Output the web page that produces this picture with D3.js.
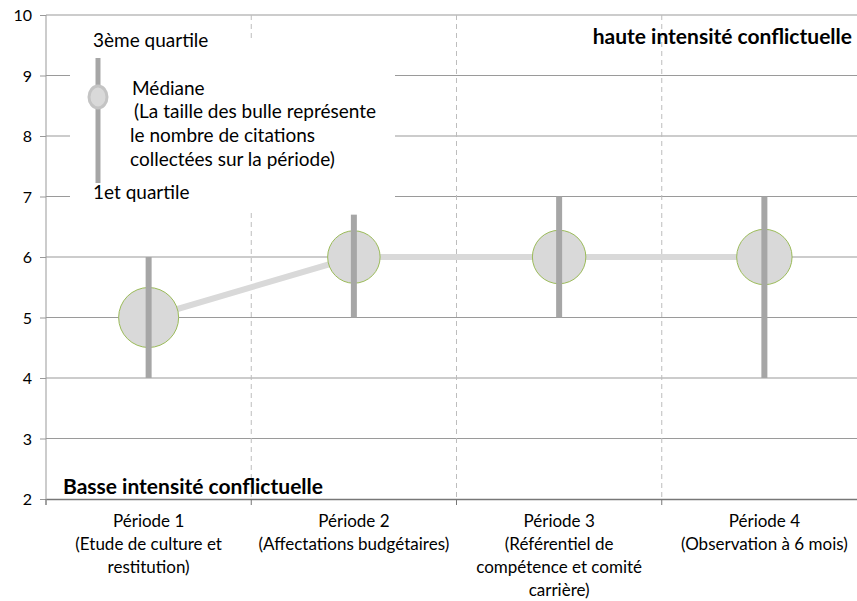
<!DOCTYPE html>
<html>
<head>
<meta charset="utf-8">
<script src="https://cdn.jsdelivr.net/npm/d3@7"></script>
<style>
  body { margin: 0; background: #fff; }
  text { font-family: Lato, "Open Sans", sans-serif; fill: #000; }
</style>
</head>
<body>
<svg></svg>
<script>
const periods = ["Période 1", "Période 2", "Période 3", "Période 4"];
const periodNotes = [
    ["(Etude de culture et", "restitution)"],
    ["(Affectations budgétaires)"],
    ["(Référentiel de", "compétence et comité", "carrière)"],
    ["(Observation à 6 mois)"]
];
const medians = [5, 6, 6, 6];
const q1 = [4, 5, 5, 4];
const q3 = [6, 6.7, 7, 7];
const citations = [34, 26, 27, 29];
const yTicks = [2, 3, 4, 5, 6, 7, 8, 9, 10];

const svgWidth = 857, svgHeight = 601;
const margin = { top: 15, left: 46 };
const width = 821, height = 484;

const svg = d3.select("svg")
    .attr("width", svgWidth)
    .attr("height", svgHeight);

const g = svg.append("g")
    .attr("transform", "translate(" + margin.left + "," + margin.top + ")");

const x = d3.scaleBand().domain(periods).range([0, width]);
const y = d3.scaleLinear().domain([2, 10]).range([height, 0]);
const r = d3.scaleSqrt().domain([0, d3.max(citations)]).range([0, 30]);
const cx = p => x(p) + x.bandwidth() / 2;

// horizontal gridlines
g.selectAll(".grid")
    .data(yTicks.slice(1))
    .join("line")
    .attr("x1", 0).attr("x2", width)
    .attr("y1", d => y(d)).attr("y2", d => y(d))
    .attr("stroke", "#9a9a9a")
    .attr("stroke-width", 1.2);

// dashed period separators
g.selectAll(".sep")
    .data(periods.slice(1))
    .join("line")
    .attr("x1", d => x(d)).attr("x2", d => x(d))
    .attr("y1", 0).attr("y2", height)
    .attr("stroke", "#bdbdbd")
    .attr("stroke-dasharray", "5,4");

// y axis
const yAxis = g.append("g")
    .call(d3.axisLeft(y).tickValues(yTicks).tickSize(6).tickPadding(8));
yAxis.select(".domain").attr("stroke", "#999").attr("d", "M0,0V" + (height + 6));
yAxis.selectAll(".tick line").attr("stroke", "#999");
yAxis.selectAll("text").style("font-size", "16px").attr("dy", "0.36em");

// x axis
const xAxis = g.append("g")
    .attr("transform", "translate(0," + height + ")")
    .call(d3.axisBottom(x).tickSize(0).tickFormat(""));
xAxis.select(".domain").attr("stroke", "#777").attr("stroke-width", 1.5);
g.selectAll(".xtick")
    .data(periods)
    .join("line")
    .attr("x1", d => x(d)).attr("x2", d => x(d))
    .attr("y1", height).attr("y2", height + 6)
    .attr("stroke", "#777");

const labels = g.selectAll(".xlab")
    .data(periods)
    .join("text")
    .attr("text-anchor", "middle")
    .attr("transform", d => "translate(" + cx(d) + "," + (height + 28) + ")")
    .style("font-size", "17px");
labels.selectAll("tspan")
    .data((d, i) => [d].concat(periodNotes[i]))
    .join("tspan")
    .attr("x", 0)
    .attr("y", (d, i) => i * 23)
    .text(d => d);

// legend box
const lg = g.append("g");
lg.append("rect")
    .attr("x", 24).attr("y", 25)
    .attr("width", 325).attr("height", 172)
    .attr("fill", "#fff");

// line between medians
const line = d3.line()
    .x((d, i) => cx(periods[i]))
    .y(d => y(d));
g.append("path")
    .datum(medians)
    .attr("fill", "none")
    .attr("stroke", "#d9d9d9")
    .attr("stroke-width", 6)
    .attr("d", line);

// bubbles
g.selectAll(".bubble")
    .data(medians)
    .join("circle")
    .attr("cx", (d, i) => cx(periods[i]))
    .attr("cy", d => y(d))
    .attr("r", (d, i) => r(citations[i]))
    .attr("fill", "#d9d9d9")
    .attr("stroke", "#9bbb59")
    .attr("stroke-width", 1);

// quartile bars
g.selectAll(".bar")
    .data(periods)
    .join("line")
    .attr("x1", d => cx(d)).attr("x2", d => cx(d))
    .attr("y1", (d, i) => y(q1[i]))
    .attr("y2", (d, i) => y(q3[i]))
    .attr("stroke", "#a6a6a6")
    .attr("stroke-width", 6);

// legend content
lg.append("line")
    .attr("x1", 52).attr("x2", 52)
    .attr("y1", 43).attr("y2", 168)
    .attr("stroke", "#a6a6a6")
    .attr("stroke-width", 5);
lg.append("ellipse")
    .attr("cx", 52).attr("cy", 82)
    .attr("rx", 9).attr("ry", 11)
    .attr("fill", "#d9d9d9")
    .attr("stroke", "#c4c4c4")
    .attr("stroke-width", 3);
const legendText = [
    { t: "3ème quartile", x: 47, y: 32 },
    { t: "Médiane", x: 86, y: 80 },
    { t: "(La taille des bulle représente", x: 88, y: 103 },
    { t: "le nombre de citations", x: 84, y: 127 },
    { t: "collectées sur la période)", x: 84, y: 151 },
    { t: "1et quartile", x: 47, y: 184 }
];
lg.selectAll(".lt")
    .data(legendText)
    .join("text")
    .attr("x", d => d.x).attr("y", d => d.y)
    .style("font-size", "19px")
    .text(d => d.t);

// annotations
g.append("text")
    .attr("x", 806).attr("y", 29)
    .attr("text-anchor", "end")
    .style("font-size", "21px")
    .style("font-weight", "bold")
    .text("haute intensité conflictuelle");
g.append("text")
    .attr("x", 17).attr("y", height - 5)
    .style("font-size", "21px")
    .style("font-weight", "bold")
    .text("Basse intensité conflictuelle");
</script>
</body>
</html>
